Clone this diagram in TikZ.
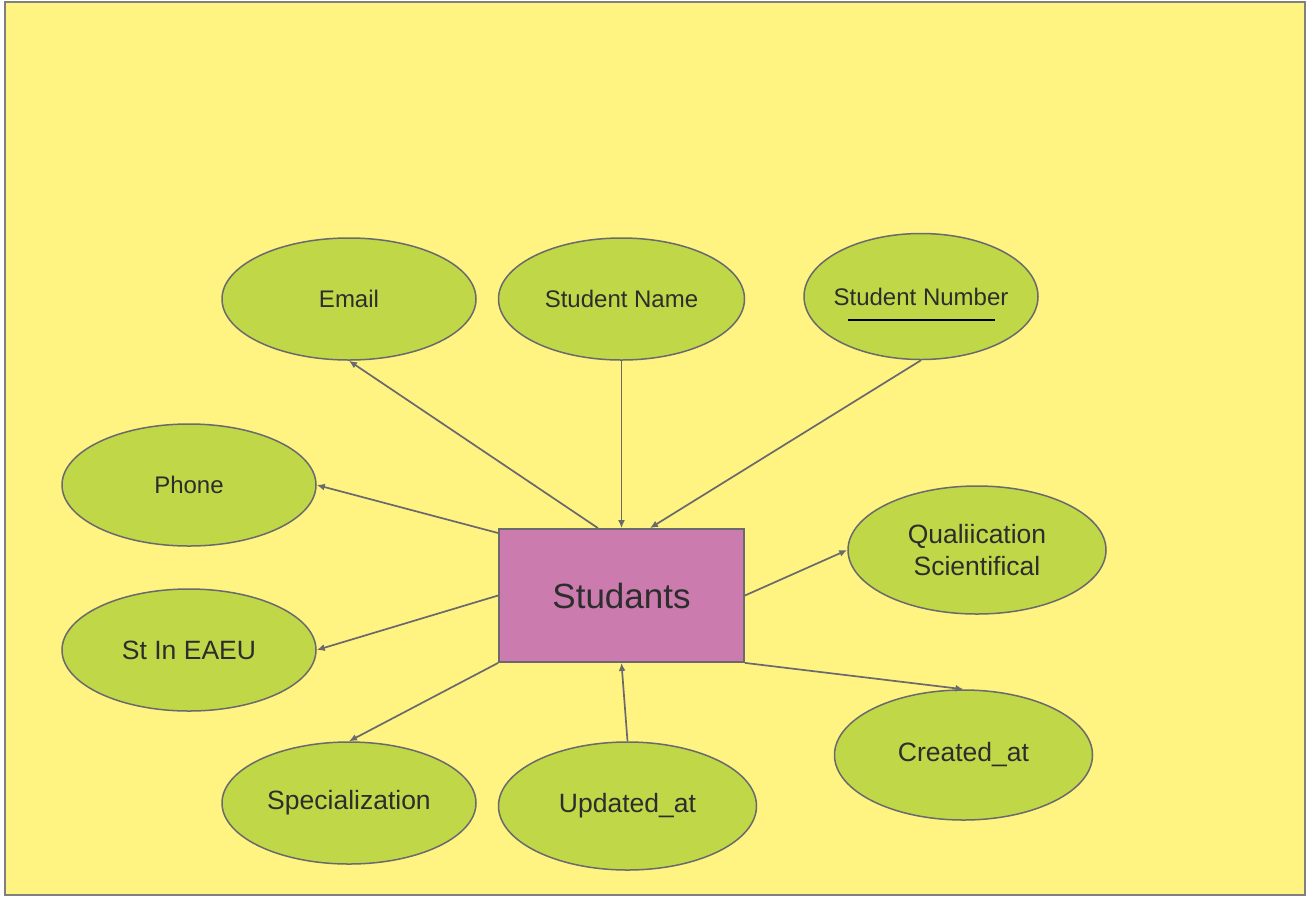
\documentclass[tikz,border=0pt]{standalone}
\usepackage{fontspec}
\setmainfont{Liberation Sans}
\usetikzlibrary{shapes.geometric,arrows.meta}
\definecolor{bgyellow}{RGB}{255,243,130}
\definecolor{attrgreen}{RGB}{192,216,71}
\definecolor{entpink}{RGB}{204,123,175}
\definecolor{linegray}{RGB}{105,105,110}
\definecolor{txtgray}{RGB}{45,45,45}
\tikzset{
  attr/.style={ellipse, draw=linegray, line width=1.5pt, fill=attrgreen, inner sep=0pt, text=txtgray, align=center},
  ent/.style={rectangle, draw=linegray, line width=1.8pt, fill=entpink, inner sep=0pt, text=txtgray},
  conn/.style={draw=linegray, line width=1.7pt, -{Latex[length=8pt,width=7pt]}},
  fsmall/.style={font=\fontsize{24}{28}\selectfont},
  fbig/.style={font=\fontsize{26.5}{32}\selectfont},
}
\begin{document}
\begin{tikzpicture}[x=1pt,y=-1pt]
\useasboundingbox (0,0) rectangle (1307,898);
\draw[fill=bgyellow, draw=gray, line width=2.2pt] (5,2) rectangle (1305,895);

\node[ent, minimum width=245pt, minimum height=133pt, font=\fontsize{35}{40}\selectfont] (st) at (621.5,595.5) {Studants};

\node[attr, fsmall, minimum width=254pt, minimum height=122pt] (em) at (349,299) {Email};
\node[attr, fsmall, minimum width=246pt, minimum height=122pt] (sn) at (621.5,299) {Student Name};
\node[attr, fsmall, inner xsep=-6pt, minimum width=234pt, minimum height=126pt] (snum) at (921,296.5) {Student Number};
\node[attr, fsmall, minimum width=254pt, minimum height=122pt] (ph) at (189,485) {Phone};
\node[attr, fbig, minimum width=258pt, minimum height=128pt] (ql) at (977,550) {Qualiication\\Scientifical};
\node[attr, fbig, minimum width=254pt, minimum height=122pt] (ea) at (189,650) {St In EAEU};
\node[attr, fbig, minimum width=254pt, minimum height=122pt] (sp) at (349,803) {Specialization};
\node[attr, fbig, minimum width=258pt, minimum height=128pt] (up) at (627.5,806) {Updated\_at};
\node[attr, fbig, minimum width=258pt, minimum height=130pt] (cr) at (963.5,755) {Created\_at};

\draw[black, line width=2pt] ([xshift=-73pt,yshift=-23.5pt]snum.center) -- ([xshift=74pt,yshift=-23.5pt]snum.center);

\draw[conn] ([xshift=-23.5pt]st.north) -- (em.south);
\draw[conn] (sn.south) -- (st.north);
\draw[conn] (snum.south) -- ([xshift=28.5pt]st.north);
\draw[conn] ([yshift=62.5pt]st.west) -- (ph.east);
\draw[conn] (st.east) -- (ql.west);
\draw[conn] (st.west) -- (ea.east);
\draw[conn] (st.south west) -- (sp.north);
\draw[conn] (up.north) -- (st.south);
\draw[conn] (st.south east) -- (cr.north);
\end{tikzpicture}
\end{document}
